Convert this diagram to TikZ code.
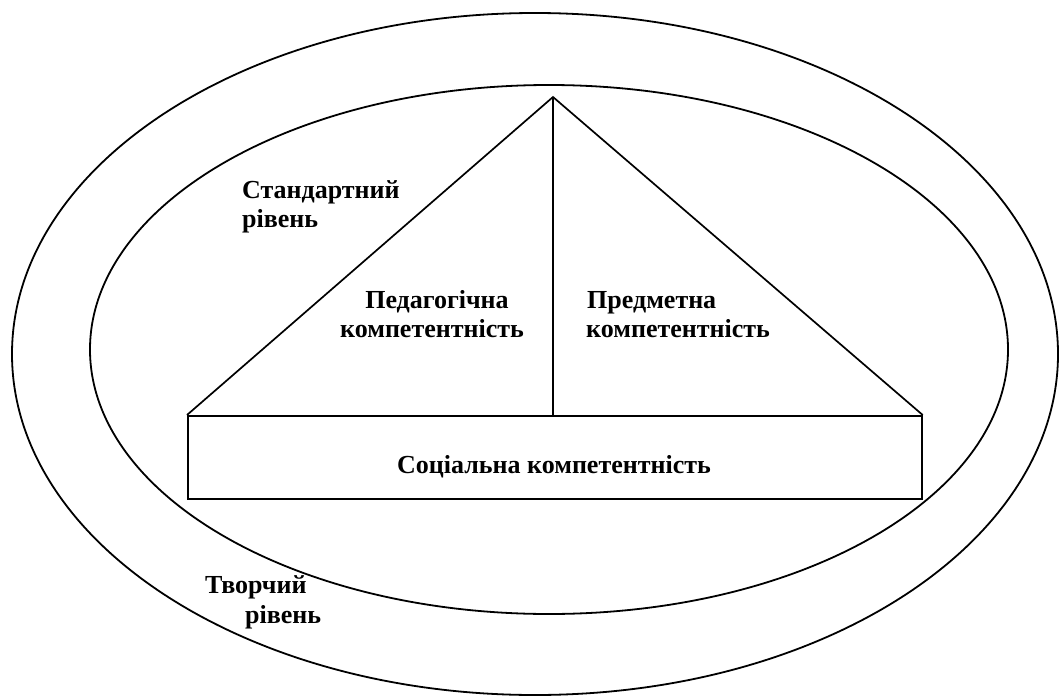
\documentclass[tikz,border=0pt]{standalone}
\usepackage{fontspec}
\setmainfont{Liberation Serif}
\begin{document}
\begin{tikzpicture}[x=1pt,y=-1pt,
  lbl/.style={font=\fontsize{26}{30}\selectfont\bfseries, inner sep=0pt},
  ring/.style={line width=1.8pt},
  edge/.style={line width=1.7pt}]
\useasboundingbox (0,0) rectangle (1060,696);
\draw[ring] (535,354) ellipse [x radius=523, y radius=341];
\draw[ring] (549,349.5) ellipse [x radius=459, y radius=264.5];
\node[draw, edge, minimum width=734pt, minimum height=83pt, inner sep=0pt, anchor=north west] (soc) at (187,415) {};
\node[lbl, anchor=base] (soctxt) at (554,473) {Соціальна компетентність};
\coordinate (apex) at (553,97);
\draw[edge] (soc.north west) -- (apex) -- (soc.north east);
\draw[edge] (apex) -- (apex |- soc.north);
\node[lbl, anchor=base] (ped1) at (437,308) {Педагогічна};
\node[lbl, anchor=base] (ped2) at (432,337) {компетентність};
\node[lbl, anchor=base west] (pred1) at (587,308) {Предметна};
\node[lbl, anchor=base west] (pred2) at (586,337) {компетентність};
\node[lbl, anchor=base west] (std1) at (242,198) {Стандартний};
\node[lbl, anchor=base west] (std2) at (242,227) {рівень};
\node[lbl, anchor=base west] (tv1) at (205,593) {Творчий};
\node[lbl, anchor=base west] (tv2) at (245,623) {рівень};
\end{tikzpicture}
\end{document}
